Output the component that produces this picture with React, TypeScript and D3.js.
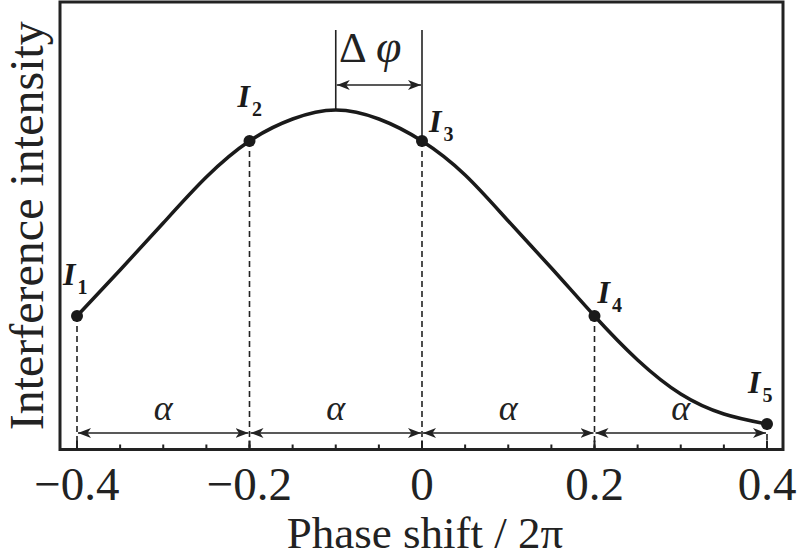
import React from "react";
import * as d3 from "d3";

const phase = [-0.4, -0.35, -0.3, -0.25, -0.2, -0.15, -0.1, -0.05, 0, 0.05, 0.1, 0.15, 0.2, 0.25, 0.3, 0.35, 0.4];
const intensity = [1.33, 1.79, 2.26, 2.72, 3.08, 3.3, 3.39, 3.3, 3.08, 2.74, 2.28, 1.81, 1.33, 0.89, 0.55, 0.35, 0.25];
const sampleIdx = [0, 4, 8, 12, 16];
const sampleLabels = ["1", "2", "3", "4", "5"];
const majorTicks = [-0.4, -0.2, 0, 0.2, 0.4];
const majorTickLabels = ["\u22120.4", "\u22120.2", "0", "0.2", "0.4"];
const minorTicks = d3.range(-0.4, 0.4001, 0.05);
const peakPhase = -0.1;

export default function App() {
  const W = 797, H = 557;
  const frame = { x0: 60, x1: 783, y0: 2, y1: 449.5 };
  const x = d3.scaleLinear().domain([-0.4, 0.4]).range([77, 767]);
  const y = d3.scaleLinear().domain([0, 4.46]).range([449, 3]);
  const data = phase.map((p, i) => [p, intensity[i]] as [number, number]);
  const line = d3.line<[number, number]>().x(d => x(d[0])).y(d => y(d[1])).curve(d3.curveNatural);

  const labelOff = [[-14, -31], [-12, -34], [7, -9], [3, -13], [-19, -31]];

  const arrowY = 433;
  const peakIdx = phase.indexOf(peakPhase);
  const dphiY = 85;

  const serif = "'Liberation Serif', 'Times New Roman', serif";

  return (
    <svg width={W} height={H} style={{ position: "absolute", left: 0, top: 0, background: "#fff" }} fontFamily={serif}>
      <defs>
        <marker id="ah" viewBox="0 0 13 10" refX="13" refY="5" markerWidth="13" markerHeight="10" markerUnits="userSpaceOnUse" orient="auto-start-reverse">
          <path d="M0,0 L13,5 L0,10 L3.5,5 Z" fill="#222" />
        </marker>
      </defs>
      <rect x={frame.x0} y={frame.y0} width={frame.x1 - frame.x0} height={frame.y1 - frame.y0} fill="none" stroke="#222" strokeWidth={3} />
      {minorTicks.map((t, i) => (
        <line key={"m" + i} x1={x(t)} x2={x(t)} y1={frame.y1} y2={frame.y1 - 5} stroke="#222" strokeWidth={2} />
      ))}
      {majorTicks.map((t, i) => (
        <line key={"M" + i} x1={x(t)} x2={x(t)} y1={frame.y1} y2={frame.y1 - 9} stroke="#222" strokeWidth={2} />
      ))}
      {majorTicks.map((t, i) => (
        <text key={"tl" + i} x={x(t)} y={500} fontSize={47} textAnchor="middle" fill="#222">{majorTickLabels[i]}</text>
      ))}
      <text x={425} y={548} fontSize={45} textAnchor="middle" fill="#222">Phase shift / 2π</text>
      <text transform={`translate(43,${(frame.y0 + frame.y1) / 2}) rotate(-90)`} fontSize={48} textAnchor="middle" fill="#222">Interference intensity</text>

      {sampleIdx.map((k, i) => (
        <line key={"d" + i} x1={x(phase[k])} x2={x(phase[k])} y1={y(intensity[k])} y2={frame.y1} stroke="#222" strokeWidth={1.6} strokeDasharray="6,4" />
      ))}
      {sampleIdx.slice(0, -1).map((k, i) => {
        const a = x(phase[k]), b = x(phase[sampleIdx[i + 1]]);
        return (
          <g key={"a" + i}>
            <line x1={a + 1} x2={b - 1} y1={arrowY} y2={arrowY} stroke="#222" strokeWidth={1.6} markerStart="url(#ah)" markerEnd="url(#ah)" />
            <text x={(a + b) / 2} y={420} fontSize={36} fontStyle="italic" textAnchor="middle" fill="#222">α</text>
          </g>
        );
      })}
      <line x1={x(peakPhase)} x2={x(peakPhase)} y1={30} y2={y(intensity[peakIdx])} stroke="#222" strokeWidth={1.6} />
      <line x1={x(0)} x2={x(0)} y1={30} y2={y(intensity[8])} stroke="#222" strokeWidth={1.6} />
      <line x1={x(peakPhase) + 1} x2={x(0) - 1} y1={dphiY} y2={dphiY} stroke="#222" strokeWidth={1.6} markerStart="url(#ah)" markerEnd="url(#ah)" />
      <text x={339} y={62} fontSize={43} fill="#222">Δ</text>
      <text x={376} y={62} fontSize={46} fontStyle="italic" fill="#222">φ</text>

      <path d={line(data) || ""} fill="none" stroke="#1a1a1a" strokeWidth={3.5} />
      {sampleIdx.map((k, i) => (
        <circle key={"c" + i} cx={x(phase[k])} cy={y(intensity[k])} r={6} fill="#1a1a1a" />
      ))}
      {sampleIdx.map((k, i) => (
        <text key={"l" + i} x={x(phase[k]) + labelOff[i][0]} y={y(intensity[k]) + labelOff[i][1]} fontSize={32} fontWeight="bold" fontStyle="italic" fill="#1a1a1a">
          I<tspan fontSize={20} dx={2} dy={9} fontStyle="normal">{sampleLabels[i]}</tspan>
        </text>
      ))}
    </svg>
  );
}
